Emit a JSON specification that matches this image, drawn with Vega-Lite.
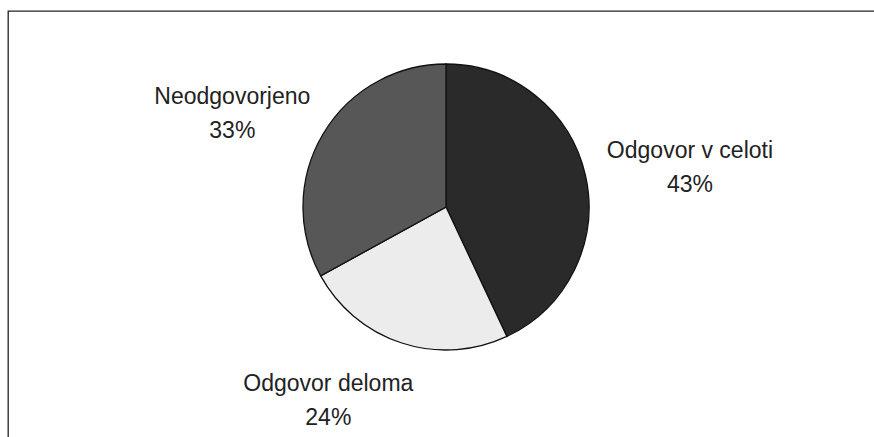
{
  "$schema": "https://vega.github.io/schema/vega-lite/v6.json",
  "width": 874,
  "height": 437,
  "autosize": {"type": "fit", "contains": "padding"},
  "padding": {"left": 8, "top": 11, "right": 0, "bottom": 0},
  "background": "white",
  "view": {"stroke": "#222222", "strokeWidth": 1.3, "strokeDash": [866, 1292, 426]},
  "data": {
    "values": [
      {"category": "Odgovor v celoti", "share": 43, "order": 1},
      {"category": "Odgovor deloma", "share": 24, "order": 2},
      {"category": "Neodgovorjeno", "share": 33, "order": 3}
    ]
  },
  "transform": [
    {"calculate": "[datum.category, datum.share + '%']", "as": "label"}
  ],
  "encoding": {
    "theta": {"field": "share", "type": "quantitative", "stack": true},
    "order": {"field": "order", "type": "quantitative"}
  },
  "layer": [
    {
      "mark": {"type": "arc", "outerRadius": 143, "stroke": "#111111", "strokeWidth": 1.3, "xOffset": 5, "yOffset": -17},
      "encoding": {
        "color": {
          "field": "category",
          "type": "nominal",
          "scale": {
            "domain": ["Odgovor v celoti", "Odgovor deloma", "Neodgovorjeno"],
            "range": ["#2a2a2a", "#ececec", "#575757"]
          },
          "legend": null
        }
      }
    },
    {
      "mark": {
        "type": "text",
        "font": "Liberation Sans",
        "fontSize": 23,
        "letterSpacing": 0.7,
        "lineHeight": 34,
        "fill": "#222222",
        "align": "center",
        "baseline": "middle",
        "xOffset": 5,
        "yOffset": -17,
        "radius": {"expr": "datum.category === 'Neodgovorjeno' ? 232 : datum.category === 'Odgovor v celoti' ? 251 : 219"},
        "dx": {"expr": "datum.category === 'Neodgovorjeno' ? -14 : datum.category === 'Odgovor v celoti' ? -1 : -50"},
        "dy": {"expr": "datum.category === 'Neodgovorjeno' ? 8 : datum.category === 'Odgovor v celoti' ? -1 : -31"}
      },
      "encoding": {
        "text": {"field": "label"}
      }
    }
  ]
}
